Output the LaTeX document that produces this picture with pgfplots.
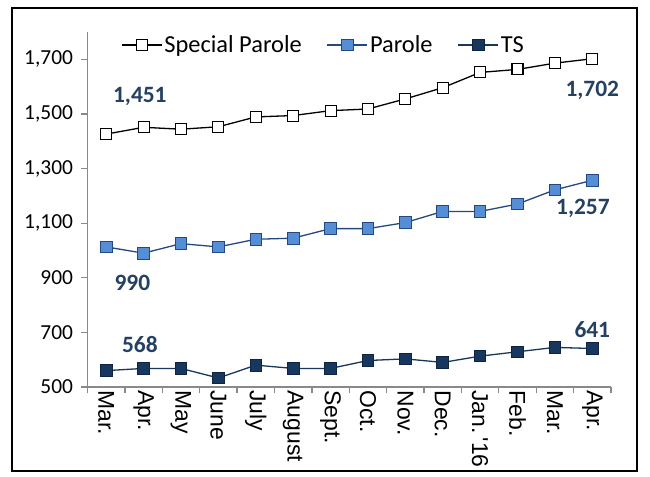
\documentclass[border=0pt]{standalone}
\usepackage{pgfplots}
\pgfplotsset{compat=1.18}
\usepackage{fontspec}
\setmainfont{Carlito}
\newfontfamily\arialf{Liberation Sans}
\definecolor{axgray}{RGB}{137,137,137}
\definecolor{lblblue}{RGB}{36,64,98}
\definecolor{parfill}{RGB}{85,142,213}
\definecolor{paredge}{RGB}{36,72,130}
\definecolor{tsfill}{RGB}{23,55,94}
\definecolor{tsedge}{RGB}{15,36,64}
\begin{document}
\begin{tikzpicture}
\useasboundingbox (-87.5bp,-90bp) rectangle (562.5bp,387bp);
\begin{axis}[
  scale only axis,
  width=523.5bp, height=355bp,
  at={(0,0)}, anchor=south west,
  xmin=-0.5, xmax=13.5, ymin=500, ymax=1800,
  axis x line=bottom, axis y line=left,
  axis line style={draw=axgray, line width=1.3bp, -},
  xtick={0,...,13},
  xticklabels={Mar.,Apr.,May,June,July,August,Sept.,Oct.,Nov.,Dec.,Jan.\,'16,Feb.,Mar.,Apr.},
  minor xtick={-0.5,0.5,...,13.5},
  x tick style={draw=none},
  minor x tick style={draw=axgray, line width=1.3bp},
  minor tick length=6bp,
  ytick={500,700,...,1700},
  y tick style={draw=axgray, line width=1.3bp},
  major tick length=6bp,
  tick align=outside,
  xticklabel style={rotate=-90, anchor=west, yshift=0bp, xshift=-6bp, font=\arialf\fontsize{23}{26}\selectfont},
  yticklabel style={font=\fontsize{21.5}{26}\selectfont, xshift=-5bp},
  /pgf/number format/.cd, 1000 sep={,}, assume math mode=true,
  /pgfplots/.cd,
  legend style={draw=none, fill=none, at={(0.058,0.963)}, anchor=west,
    font=\fontsize{24.5}{28}\selectfont, legend columns=3,
    /tikz/every even column/.append style={column sep=23bp}},
  legend image code/.code={\draw[mark repeat=2,mark phase=2,#1] plot coordinates {(0bp,0bp)(20bp,0bp)(40bp,0bp)};},
  clip=false,
]
\addplot[black, line width=1.3bp, mark=square*, mark size=5.5bp, mark options={fill=white, draw=black, line width=1.1bp}]
 coordinates {(0,1426)(1,1451)(2,1444)(3,1453)(4,1489)(5,1494)(6,1512)(7,1518)(8,1555)(9,1596)(10,1652)(11,1663)(12,1686)(13,1702)};
\addlegendentry{Special Parole}
\addplot[paredge, line width=1.3bp, mark=square*, mark size=5.8bp, mark options={fill=parfill, draw=paredge, line width=0.9bp}]
 coordinates {(0,1013)(1,990)(2,1025)(3,1013)(4,1041)(5,1045)(6,1080)(7,1080)(8,1102)(9,1143)(10,1143)(11,1170)(12,1222)(13,1257)};
\addlegendentry{Parole}
\addplot[tsfill, line width=1.3bp, mark=square*, mark size=5.8bp, mark options={fill=tsfill, draw=tsedge, line width=0.9bp}]
 coordinates {(0,560)(1,568)(2,568)(3,533)(4,580)(5,568)(6,568)(7,597)(8,603)(9,590)(10,613)(11,629)(12,645)(13,641)};
\addlegendentry{TS}
\begin{scope}[every node/.style={font=\bfseries\fontsize{23.5}{27}\selectfont, text=lblblue}]
\node at (axis cs:0.9,1565) {1,451};
\node at (axis cs:13,1587) {1,702};
\node at (axis cs:0.7,881) {990};
\node at (axis cs:12.75,1155) {1,257};
\node at (axis cs:0.9,654) {568};
\node at (axis cs:13,712) {641};
\end{scope}
\end{axis}
\draw[black, line width=1.5bp] (-75.5bp,379bp) rectangle (549.5bp,-84bp);
\end{tikzpicture}
\end{document}
